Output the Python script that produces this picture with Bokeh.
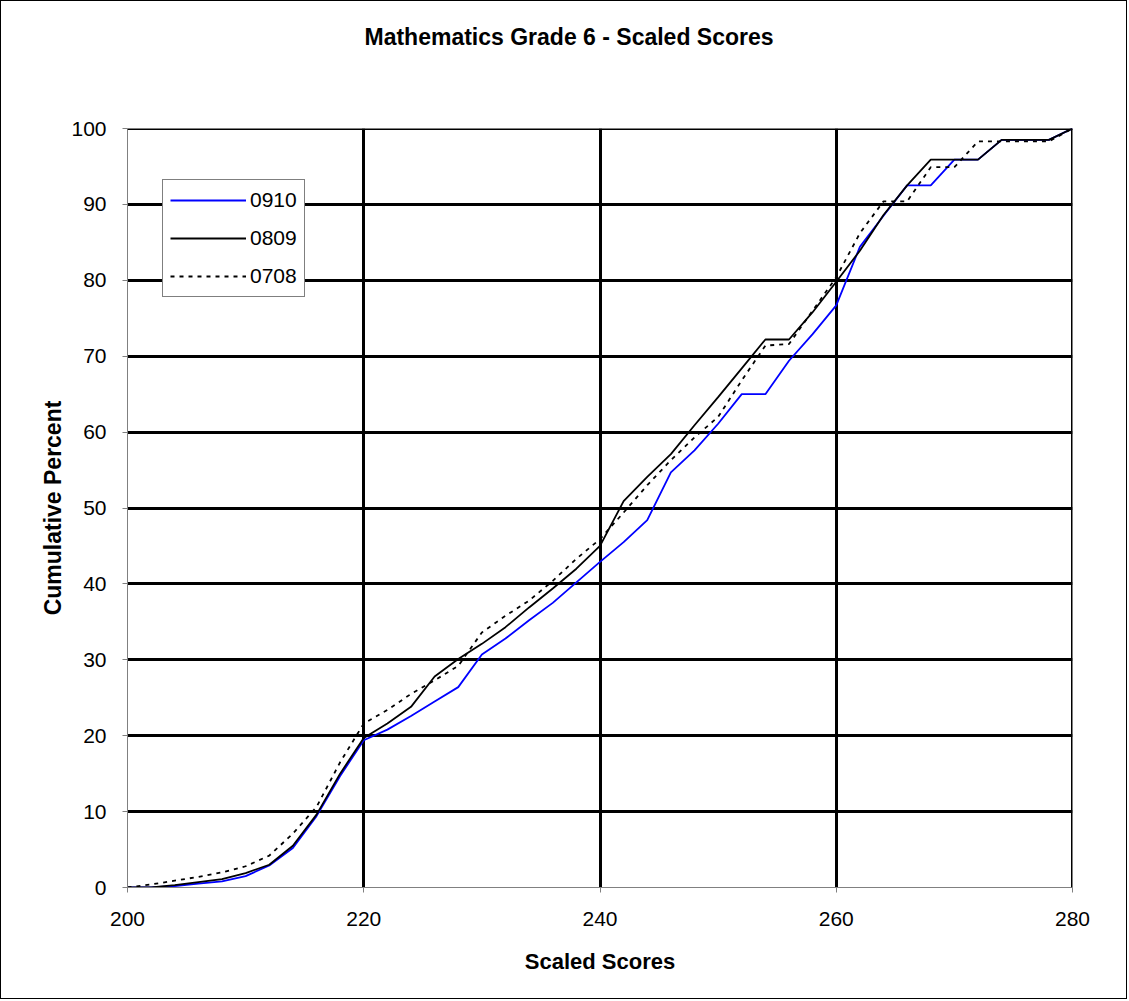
from bokeh.plotting import figure
from bokeh.models import FixedTicker, Legend, LegendItem, Span, Title
from bokeh.embed import file_html
from bokeh.resources import INLINE

scores = list(range(200, 282, 2))
s0910 = [0, 0, 0.2, 0.5, 0.8, 1.5, 2.9, 5.2, 9.4, 14.7, 19.4, 20.8, 22.6, 24.5, 26.4, 30.7,
         32.8, 35.2, 37.5, 40.2, 42.9, 45.5, 48.4, 54.7, 57.6, 61.1, 65.0, 65.0, 69.4, 72.9,
         76.7, 84.4, 88.5, 92.5, 92.5, 95.9, 95.9, 98.5, 98.5, 98.5, 100]
s0809 = [0, 0, 0.3, 0.7, 1.1, 1.9, 3.0, 5.5, 9.6, 15.0, 19.7, 21.6, 23.8, 27.8, 30.1, 32.1,
         34.3, 36.9, 39.4, 42.0, 45.0, 50.9, 54.1, 57.1, 60.9, 64.6, 68.4, 72.2, 72.2, 75.8,
         79.8, 83.9, 88.6, 92.5, 95.9, 95.9, 95.9, 98.5, 98.5, 98.5, 100]
s0708 = [0, 0.4, 0.9, 1.4, 2.0, 2.8, 4.2, 7.1, 10.6, 16.5, 21.6, 23.4, 25.5, 27.3, 29.2, 33.6,
         35.8, 37.8, 40.4, 43.3, 45.9, 49.4, 53.0, 56.3, 59.3, 62.0, 66.8, 71.4, 71.6, 76.0,
         80.4, 86.2, 90.4, 90.4, 94.9, 94.9, 98.3, 98.3, 98.3, 98.3, 100]
x_ticks = [200, 220, 240, 260, 280]
y_ticks = list(range(0, 101, 10))
series_names = ["0910", "0809", "0708"]
chart_title = "Mathematics Grade 6 - Scaled Scores"

FONT = "Liberation Sans"

p = figure(width=1127, height=999, x_range=(200, 280), y_range=(0, 100),
           output_backend="svg", toolbar_location=None,
           min_border_left=126, min_border_right=56, min_border_top=127, min_border_bottom=113)
p.styles = {"border": "1px solid #000000"}

# spacer between frame and title
spacer = Title(text=" ", text_font=FONT, text_font_size="10px", standoff=64,
               text_color="white")
p.add_layout(spacer, "above")

p.title.text = chart_title
p.title.align = "left"
p.title.offset = 237
p.title.vertical_align = "top"
p.title.standoff = 0
p.title.text_font = FONT
p.title.text_font_size = "23px"
p.title.text_font_style = "bold"
p.title.text_color = "#000000"

p.outline_line_color = None
p.background_fill_color = "white"
p.border_fill_color = "white"

# grids
p.xgrid.ticker = FixedTicker(ticks=[220, 240, 260])
p.ygrid.ticker = FixedTicker(ticks=list(range(10, 100, 10)))
for g in (p.xgrid, p.ygrid):
    g.grid_line_color = "#000000"
    g.grid_line_width = 3
p.add_layout(Span(location=280, dimension="height", line_color="#000000", line_width=3))
p.add_layout(Span(location=100, dimension="width", line_color="#000000", line_width=3))

# axes
p.xaxis.ticker = FixedTicker(ticks=x_ticks)
p.yaxis.ticker = FixedTicker(ticks=y_ticks)
for ax in (p.xaxis, p.yaxis):
    ax.axis_line_color = "#808080"
    ax.axis_line_width = 1
    ax.major_tick_line_color = "#808080"
    ax.major_tick_out = 5
    ax.major_tick_in = 0
    ax.minor_tick_line_color = None
    ax.major_label_text_font = FONT
    ax.major_label_text_font_size = "21px"
    ax.major_label_text_color = "#000000"
    ax.axis_label_text_font = FONT
    ax.axis_label_text_font_style = "bold"
    ax.axis_label_text_color = "#000000"
p.xaxis.axis_label_text_font_size = "22px"
p.yaxis.axis_label_text_font_size = "23px"
p.xaxis.axis_label = "Scaled Scores"
p.yaxis.axis_label = "Cumulative Percent"
p.xaxis.major_label_standoff = 19
p.yaxis.major_label_standoff = 16
p.xaxis.axis_label_standoff = 20
p.yaxis.axis_label_standoff = 2

r1 = p.line(scores, s0910, line_color="#0000FF", line_width=1.8)
r2 = p.line(scores, s0809, line_color="#000000", line_width=1.8)
r3 = p.line(scores, s0708, line_color="#000000", line_width=1.8, line_dash="4 5")

legend = Legend(items=[LegendItem(label=series_names[0], renderers=[r1]),
                       LegendItem(label=series_names[1], renderers=[r2]),
                       LegendItem(label=series_names[2], renderers=[r3])],
                location=(35, 590))
legend.label_text_font = FONT
legend.label_text_font_size = "21px"
legend.label_text_color = "#000000"
legend.glyph_width = 76
legend.glyph_height = 26
legend.label_height = 26
legend.spacing = 12
legend.padding = 7
legend.margin = 0
legend.label_standoff = 4
legend.border_line_color = "#000000"
legend.border_line_width = 1
legend.background_fill_color = "white"
legend.background_fill_alpha = 1
p.add_layout(legend, "center")

open("out.html", "w").write(file_html(p, INLINE))
